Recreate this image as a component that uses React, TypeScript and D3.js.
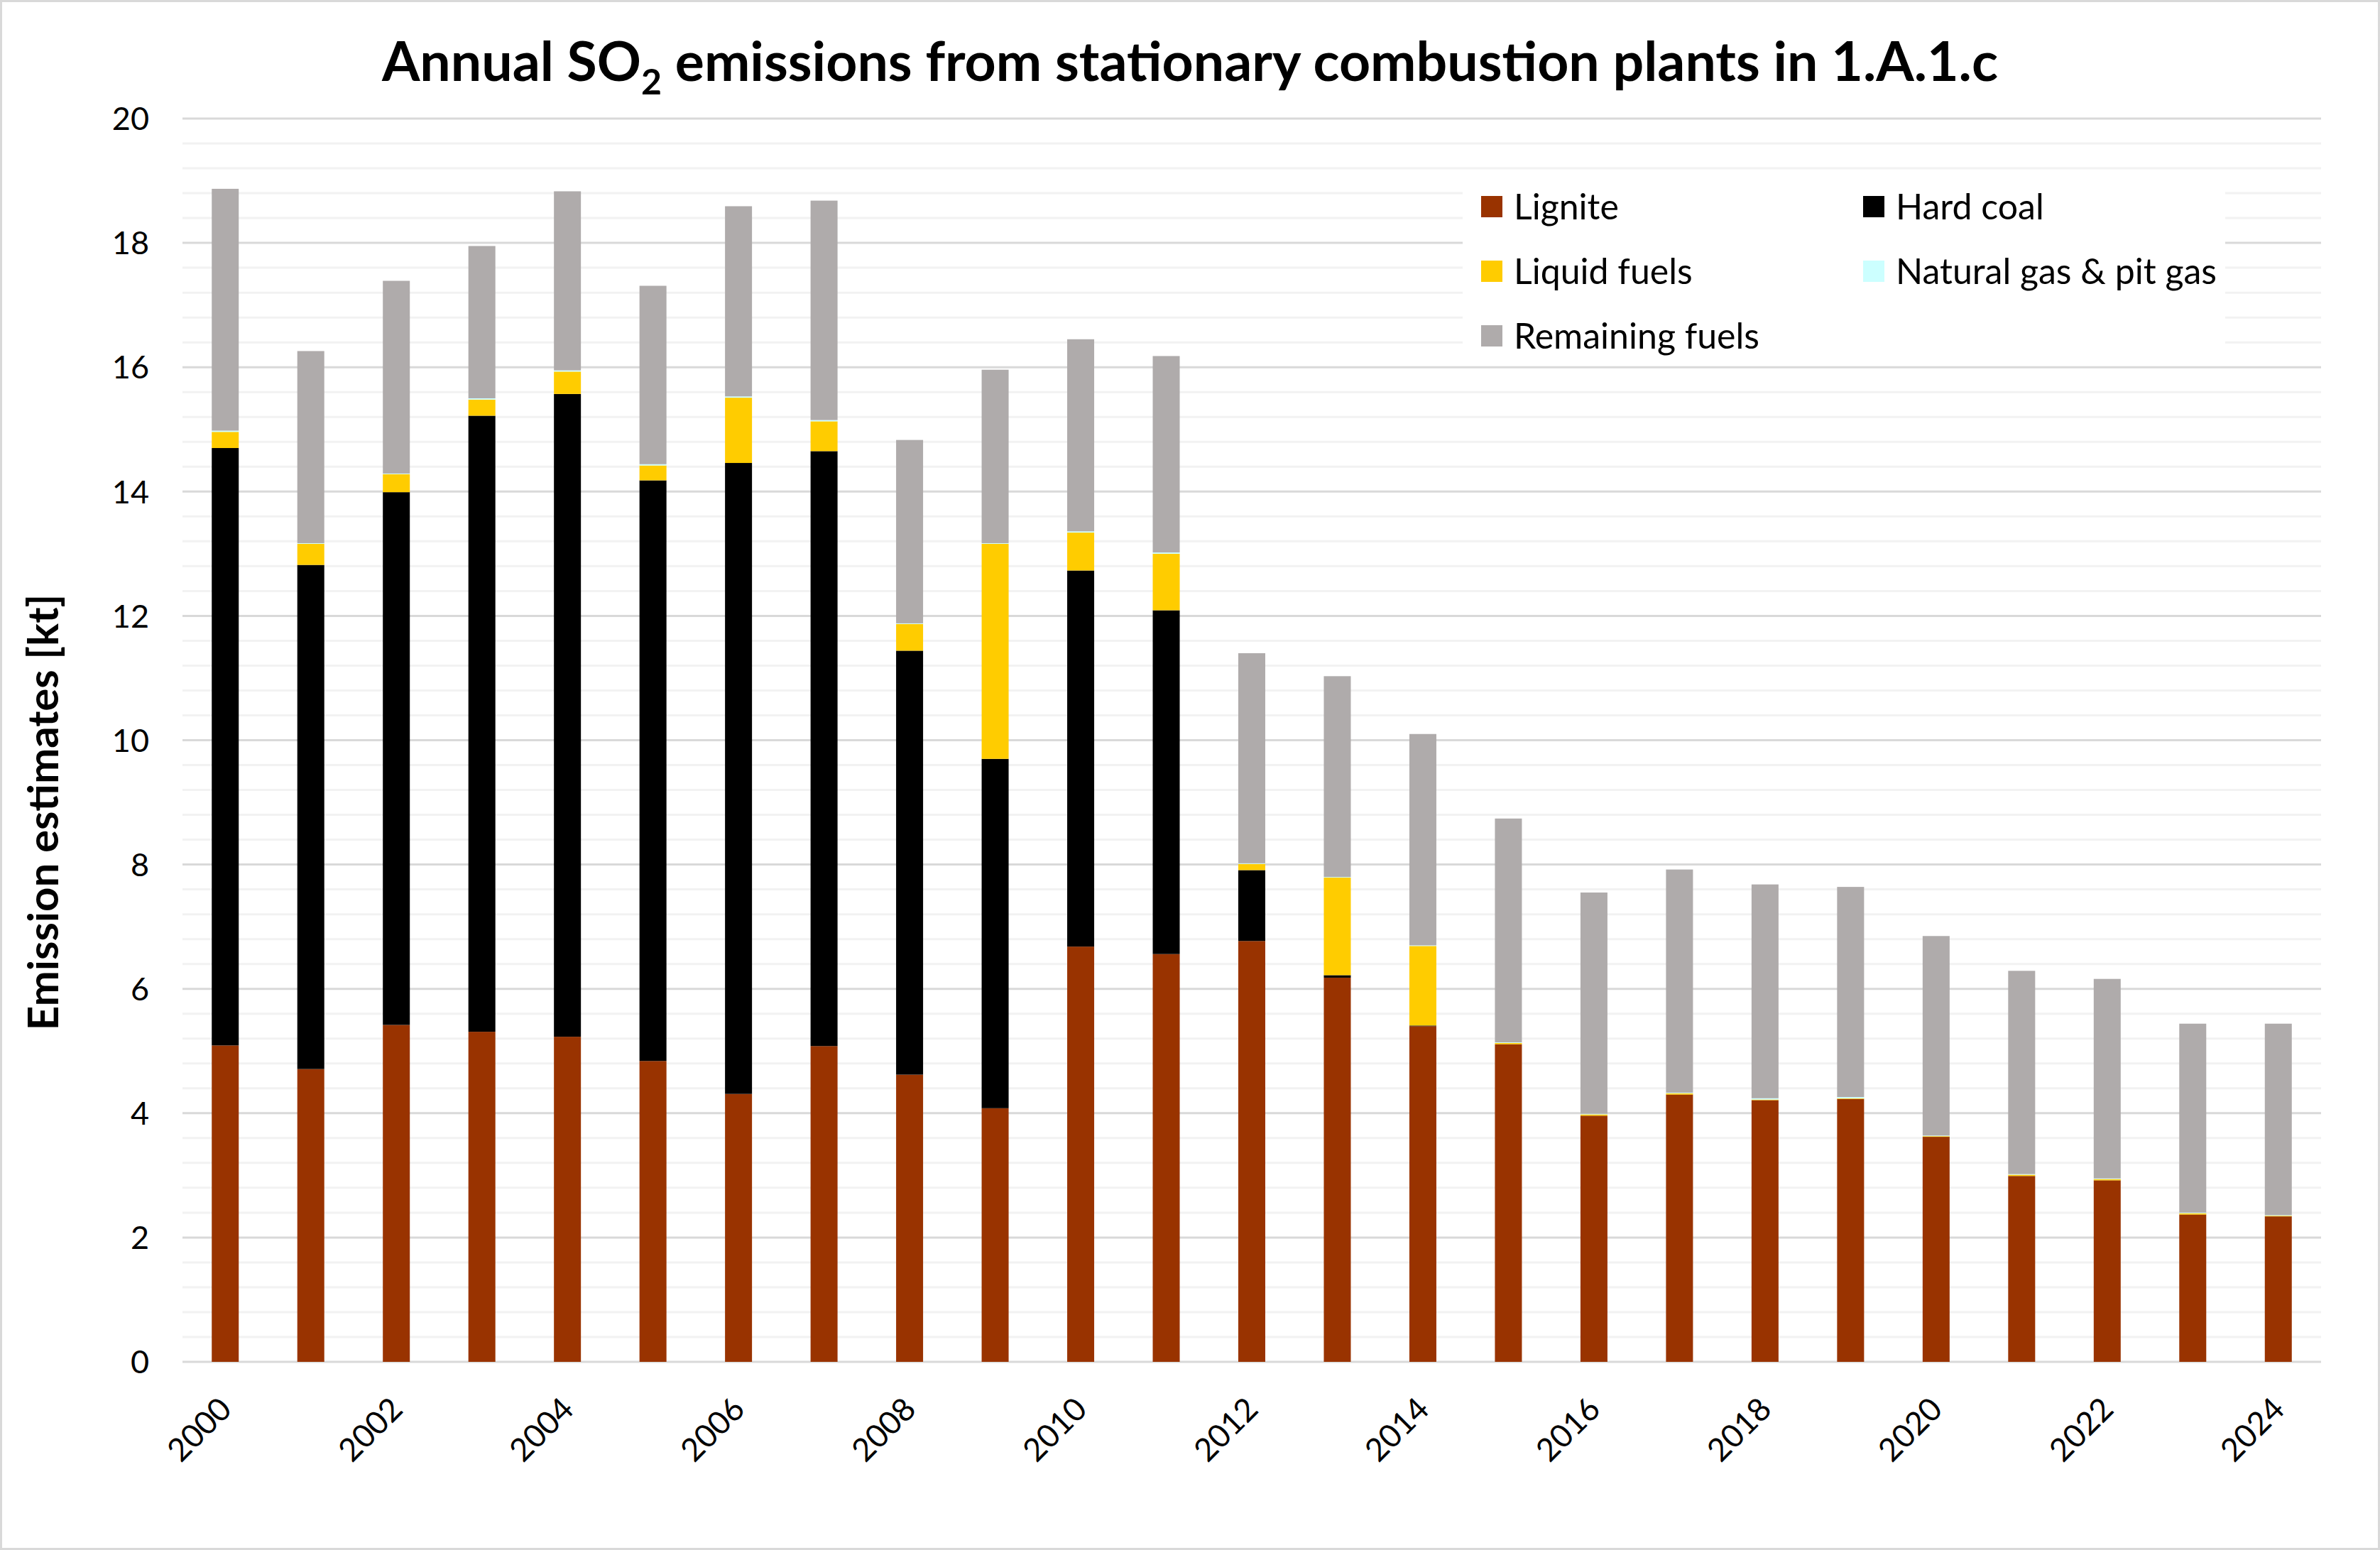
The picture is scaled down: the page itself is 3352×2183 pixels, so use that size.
import * as d3 from 'd3'

const years = ['2000', '2001', '2002', '2003', '2004', '2005', '2006', '2007', '2008', '2009', '2010', '2011', '2012',
  '2013', '2014', '2015', '2016', '2017', '2018', '2019', '2020', '2021', '2022', '2023', '2024']

const lignite = [5.09, 4.71, 5.42, 5.31, 5.23, 4.84, 4.31, 5.08, 4.62, 4.08, 6.68, 6.56, 6.77, 6.18, 5.40, 5.11, 3.96,
  4.30, 4.21, 4.23, 3.62, 2.99, 2.92, 2.37, 2.34]
const hardCoal = [9.61, 8.11, 8.57, 9.91, 10.34, 9.34, 10.15, 9.57, 6.82, 5.62, 6.05, 5.53, 1.14, 0.04, 0.01, 0, 0, 0, 0,
  0, 0, 0, 0, 0, 0]
const liquidFuels = [0.26, 0.34, 0.29, 0.26, 0.36, 0.24, 1.05, 0.48, 0.43, 3.46, 0.61, 0.91, 0.10, 1.57, 1.28, 0.02, 0.02,
  0.02, 0.01, 0.01, 0.01, 0.02, 0.02, 0.02, 0.01]
const naturalGas = [0.02, 0.01, 0.01, 0.02, 0.02, 0.02, 0.02, 0.02, 0.01, 0.01, 0.02, 0.02, 0.01, 0.01, 0.01, 0.01, 0.01,
  0.01, 0.02, 0.02, 0.01, 0.01, 0.01, 0.01, 0.01]
const remainingFuels = [3.89, 3.09, 3.10, 2.45, 2.88, 2.87, 3.06, 3.53, 2.95, 2.79, 3.09, 3.16, 3.38, 3.23, 3.40, 3.60,
  3.56, 3.59, 3.44, 3.38, 3.21, 3.27, 3.21, 3.04, 3.08]

const series = [
  { key: 'Lignite', values: lignite, color: '#993300' },
  { key: 'Hard coal', values: hardCoal, color: '#000000' },
  { key: 'Liquid fuels', values: liquidFuels, color: '#FFCC00' },
  { key: 'Natural gas & pit gas', values: naturalGas, color: '#CCFFFF' },
  { key: 'Remaining fuels', values: remainingFuels, color: '#AFABAB' },
]

const majorTicks = [0, 2, 4, 6, 8, 10, 12, 14, 16, 18, 20]
const yearLabels = ['2000', '2002', '2004', '2006', '2008', '2010', '2012', '2014', '2016', '2018', '2020', '2022', '2024']

// legend order: row by row, two columns
const legendOrder = ['Lignite', 'Hard coal', 'Liquid fuels', 'Natural gas & pit gas', 'Remaining fuels']

const W = 3352
const H = 2183
const plot = { left: 257, right: 3269, top: 167, bottom: 1918 }
const font = 'Lato, "Open Sans", sans-serif'

const App = () => {
  const x = d3.scaleBand<string>()
    .domain(years)
    .range([plot.left, plot.right])
    .paddingInner(0.6846)
    .paddingOuter(0.3423)

  const y = d3.scaleLinear()
    .domain([0, 20])
    .range([plot.bottom, plot.top])

  const rows = years.map((yr, i) => {
    const r: Record<string, number | string> = { year: yr }
    series.forEach(s => { r[s.key] = s.values[i] })
    return r
  })

  const stacked = d3.stack<Record<string, number | string>>()
    .keys(series.map(s => s.key))
    .value((d, k) => d[k] as number)(rows)

  const minorTicks = d3.range(0, 20.01, 0.4).filter(v => Math.abs(v / 2 - Math.round(v / 2)) > 0.01)

  return (
    <svg width={W} height={H} style={{ position: 'absolute', left: 0, top: 0, background: '#fff' }} fontFamily={font}>
      <rect x={1.5} y={1.5} width={W - 3} height={H - 3} fill="#fff" stroke="#d9d9d9" strokeWidth={3} />

      {/* title */}
      <text x={W / 2} y={114} textAnchor="middle" fontSize={77} fontWeight="bold" fill="#000">
        Annual SO<tspan fontSize={50} dy={19}>2</tspan><tspan dy={-19}> emissions from stationary combustion plants in 1.A.1.c</tspan>
      </text>

      {/* grid */}
      {minorTicks.map(v => (
        <line key={'mn' + v} x1={plot.left} x2={plot.right} y1={y(v)} y2={y(v)} stroke="#f2f2f2" strokeWidth={3} />
      ))}
      {majorTicks.map(v => (
        <line key={'mj' + v} x1={plot.left} x2={plot.right} y1={y(v)} y2={y(v)} stroke="#d9d9d9" strokeWidth={3} />
      ))}

      {/* y tick labels */}
      {majorTicks.map(v => (
        <text key={'yt' + v} x={210} y={y(v)} dy="0.36em" textAnchor="end" fontSize={45} fill="#000">{v}</text>
      ))}

      {/* y axis title */}
      <text transform="translate(82,1144) rotate(-90)" textAnchor="middle"
        fontSize={60} fontWeight="bold" fill="#000">Emission estimates [kt]</text>

      {/* bars */}
      {stacked.map((layer, li) => (
        <g key={layer.key} fill={series[li].color}>
          {layer.map((d, i) => (
            <rect key={years[i]} x={x(years[i])} width={x.bandwidth()} y={y(d[1])}
              height={Math.max(0, y(d[0]) - y(d[1]))} />
          ))}
        </g>
      ))}

      {/* x labels */}
      {yearLabels.map(yr => (
        <text key={'xl' + yr} transform={`translate(${(x(yr) as number) + x.bandwidth() / 2},1976) rotate(-45)`}
          textAnchor="end" dy="0.36em" fontSize={45} fill="#000">{yr}</text>
      ))}

      {/* legend */}
      <rect x={2060} y={245} width={1074} height={268} fill="#fff" />
      {legendOrder.map((k, i) => {
        const s = series.find(d => d.key === k)!
        const col = i % 2
        const row = Math.floor(i / 2)
        const lx = 2086 + col * 538
        const ly = 276 + row * 91
        return (
          <g key={'lg' + k}>
            <rect x={lx} y={ly} width={30} height={30} fill={s.color} />
            <text x={lx + 46} y={ly + 15} dy="0.36em" fontSize={50} fill="#000">{k}</text>
          </g>
        )
      })}
    </svg>
  )
}

export default App
